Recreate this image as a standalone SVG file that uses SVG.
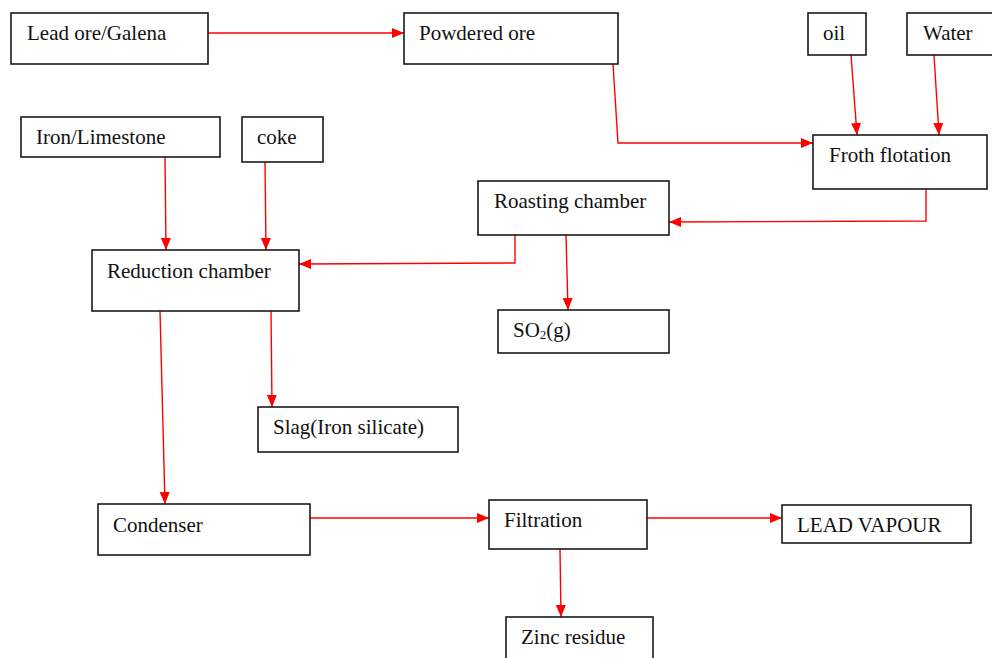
<svg xmlns="http://www.w3.org/2000/svg" width="992" height="658" viewBox="0 0 992 658">
<style>
.b{fill:#fff;stroke:#1a1a1a;stroke-width:1.6}
.t{font-family:"Liberation Serif","Times New Roman",serif;font-size:21px;fill:#111}
.c{fill:none;stroke:#ff0000;stroke-width:1.4}
</style>
<defs>
<marker id="a" markerUnits="userSpaceOnUse" markerWidth="12" markerHeight="12" viewBox="0 0 12 12" refX="12" refY="6" orient="auto">
<path d="M0,1 L12,6 L0,11 Z" fill="#ff0000"/>
</marker>
</defs>
<rect width="992" height="658" fill="#fff"/>
<g id="connectors">
<path class="c" d="M208,33 L404,33" marker-end="url(#a)"/>
<path class="c" d="M613,64 L618,143 L813,143" marker-end="url(#a)"/>
<path class="c" d="M851,55 L857,135" marker-end="url(#a)"/>
<path class="c" d="M934,55 L939,135" marker-end="url(#a)"/>
<path class="c" d="M926,189 L926,221 L669,222" marker-end="url(#a)"/>
<path class="c" d="M566,235 L568,310" marker-end="url(#a)"/>
<path class="c" d="M515,235 L515,263 L299,264" marker-end="url(#a)"/>
<path class="c" d="M165,157 L166,250" marker-end="url(#a)"/>
<path class="c" d="M265,162 L266,250" marker-end="url(#a)"/>
<path class="c" d="M271,311 L272,407" marker-end="url(#a)"/>
<path class="c" d="M160,311 L165,504" marker-end="url(#a)"/>
<path class="c" d="M310,518 L489,518" marker-end="url(#a)"/>
<path class="c" d="M647,518 L782,518" marker-end="url(#a)"/>
<path class="c" d="M560,549 L561,617" marker-end="url(#a)"/>
</g>
<g id="lead-ore"><rect class="b" x="11" y="13" width="197" height="51"/><text class="t" x="27" y="40">Lead ore/Galena</text></g>
<g id="powdered-ore"><rect class="b" x="404" y="13" width="214" height="51"/><text class="t" x="419" y="40">Powdered ore</text></g>
<g id="oil"><rect class="b" x="808" y="13" width="58" height="42"/><text class="t" x="823" y="40">oil</text></g>
<g id="water"><rect class="b" x="907" y="13" width="90" height="42"/><text class="t" x="923" y="40">Water</text></g>
<g id="froth-flotation"><rect class="b" x="813" y="135" width="174" height="54"/><text class="t" x="829" y="162">Froth flotation</text></g>
<g id="iron-limestone"><rect class="b" x="21" y="117" width="199" height="40"/><text class="t" x="36" y="144">Iron/Limestone</text></g>
<g id="coke"><rect class="b" x="242" y="117" width="81" height="45"/><text class="t" x="257" y="144">coke</text></g>
<g id="roasting-chamber"><rect class="b" x="478" y="181" width="191" height="54"/><text class="t" x="494" y="208">Roasting chamber</text></g>
<g id="reduction-chamber"><rect class="b" x="92" y="250" width="207" height="61"/><text class="t" x="107" y="278">Reduction chamber</text></g>
<g id="so2"><rect class="b" x="498" y="310" width="171" height="43"/><text class="t" x="513" y="337">SO<tspan font-size="13" dy="2">2</tspan><tspan dy="-2">(g)</tspan></text></g>
<g id="slag"><rect class="b" x="258" y="407" width="200" height="45"/><text class="t" x="273" y="434">Slag(Iron silicate)</text></g>
<g id="condenser"><rect class="b" x="98" y="504" width="212" height="51"/><text class="t" x="113" y="532">Condenser</text></g>
<g id="filtration"><rect class="b" x="489" y="500" width="158" height="49"/><text class="t" x="504" y="527">Filtration</text></g>
<g id="lead-vapour"><rect class="b" x="782" y="505" width="189" height="38"/><text class="t" x="797" y="532">LEAD VAPOUR</text></g>
<g id="zinc-residue"><rect class="b" x="506" y="617" width="147" height="50"/><text class="t" x="521" y="644">Zinc residue</text></g>
</svg>
